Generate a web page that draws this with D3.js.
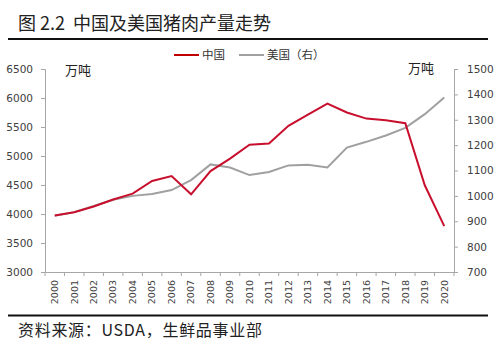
<!DOCTYPE html>
<html><head><meta charset="utf-8">
<script src="https://cdn.jsdelivr.net/npm/d3@7"></script>
<style>body{margin:0;background:#fff;} svg{display:block;}</style>
</head><body>
<svg id="c" width="500" height="344"></svg>
<script>
const years = ["2000","2001","2002","2003","2004","2005","2006","2007","2008","2009","2010","2011","2012","2013","2014","2015","2016","2017","2018","2019","2020"];
const china = [3975,4030,4130,4250,4350,4570,4655,4340,4740,4955,5195,5215,5520,5715,5905,5750,5645,5615,5565,4495,3790];
const usa = [922,936,960,985,1000,1007,1023,1062,1124,1112,1082,1094,1120,1123,1112,1190,1213,1238,1268,1322,1388];
const leftTicks = [3000,3500,4000,4500,5000,5500,6000,6500];
const rightTicks = [700,800,900,1000,1100,1200,1300,1400,1500];

const svg = d3.select("#c");
const font = "'Noto Sans CJK SC','Noto Sans',sans-serif";
const L = 45, R = 454, T = 69, B = 272;

const x = d3.scaleBand().domain(years).range([L, R]);
const yL = d3.scaleLinear().domain([3000,6500]).range([B, T]);
const yR = d3.scaleLinear().domain([700,1500]).range([B, T]);

// title
svg.append("text").attr("x",18).attr("y",30).attr("font-family",font).attr("font-size",18).attr("fill","#222")
  .attr("xml:space","preserve").text("图 2.2  中国及美国猪肉产量走势");
svg.append("line").attr("x1",8).attr("x2",488).attr("y1",39).attr("y2",39).attr("stroke","#111").attr("stroke-width",2);

// legend
const lg = svg.append("g").attr("font-family",font).attr("font-size",11.5).attr("fill","#333");
lg.append("line").attr("x1",174).attr("x2",199).attr("y1",55).attr("y2",55).attr("stroke","#c00000").attr("stroke-width",2);
lg.append("text").attr("x",202).attr("y",59).text("中国");
lg.append("line").attr("x1",239).attr("x2",264).attr("y1",55).attr("y2",55).attr("stroke","#a0a0a0").attr("stroke-width",2);
lg.append("text").attr("x",267).attr("y",59).text("美国（右）");

// axes
const fmt = d3.format("d");
const axL = svg.append("g").attr("transform",`translate(${L},0)`)
  .call(d3.axisLeft(yL).tickValues(leftTicks).tickFormat(fmt).tickSize(4).tickPadding(8));
const axR = svg.append("g").attr("transform",`translate(${R},0)`)
  .call(d3.axisRight(yR).tickValues(rightTicks).tickFormat(fmt).tickSize(4).tickPadding(9));
const axB = svg.append("g").attr("transform",`translate(0,${B})`)
  .call(d3.axisBottom(x).tickSize(0).tickPadding(0));
[axL,axR,axB].forEach(a=>{
  a.select(".domain").attr("stroke","#a6a6a6");
  a.selectAll(".tick line").attr("stroke","#a6a6a6");
  a.selectAll("text").attr("font-family","'DejaVu Sans',sans-serif").attr("font-size",10.5).attr("fill","#404040");
});
axB.selectAll(".tick text").attr("font-size",9.5)
  .attr("transform","rotate(-90)").attr("text-anchor","end").attr("x",-8).attr("y",0).attr("dy","0.35em");
// category boundary ticks
axB.selectAll(".bt").data(years.concat(["_end"])).enter().append("line").attr("class","bt")
  .attr("x1",(d,i)=>L + i*x.bandwidth()).attr("x2",(d,i)=>L + i*x.bandwidth())
  .attr("y1",0).attr("y2",4).attr("stroke","#a6a6a6");

// units
svg.append("text").attr("x",65).attr("y",75).attr("font-family",font).attr("font-size",13).attr("fill","#222").text("万吨");
svg.append("text").attr("x",408).attr("y",73).attr("font-family",font).attr("font-size",13).attr("fill","#222").text("万吨");

// lines
const cx = d => x(d) + x.bandwidth()/2;
svg.append("path").datum(usa).attr("fill","none").attr("stroke","#a0a0a0").attr("stroke-width",2)
  .attr("d", d3.line().x((d,i)=>cx(years[i])).y(d=>yR(d)));
svg.append("path").datum(china).attr("fill","none").attr("stroke","#c8102e").attr("stroke-width",2)
  .attr("d", d3.line().x((d,i)=>cx(years[i])).y(d=>yL(d)));

// footer
svg.append("line").attr("x1",8).attr("x2",488).attr("y1",315.5).attr("y2",315.5).attr("stroke","#111").attr("stroke-width",2);
svg.append("text").attr("x",18).attr("y",336).attr("font-family",font).attr("font-size",16).attr("letter-spacing",0.7).attr("fill","#222")
  .text("资料来源：USDA，生鲜品事业部");
</script>
</body></html>
